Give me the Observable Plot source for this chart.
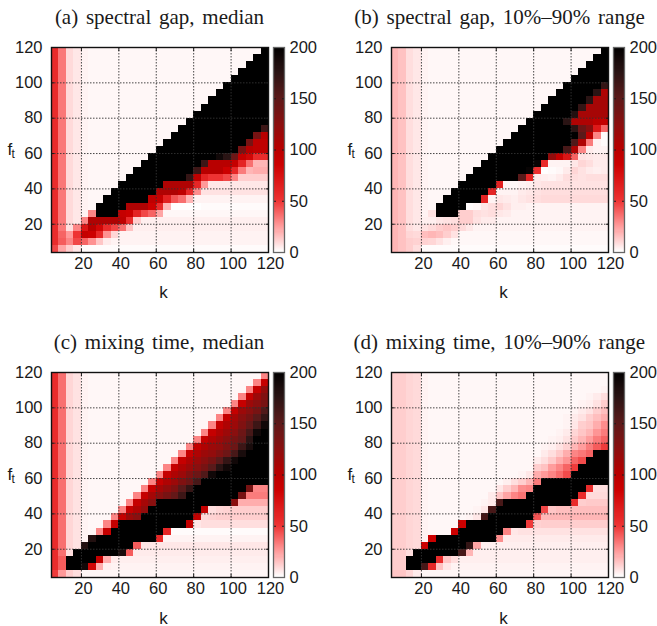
<!DOCTYPE html>
<html><head><meta charset="utf-8">
<script src="https://cdn.jsdelivr.net/npm/d3@7"></script>
<script src="https://cdn.jsdelivr.net/npm/@observablehq/plot@0.6"></script>
<style>
html,body{margin:0;padding:0;background:#fff}
#page{position:relative;width:657px;height:626px;overflow:hidden;background:#fff}
#page svg{position:absolute;background:transparent;max-width:none}
.title{position:absolute;transform:translateX(-50%);white-space:nowrap;font-family:"Liberation Serif",serif;font-size:21px;word-spacing:2.5px;color:#1a1a1a;line-height:24px}
</style></head><body><div id="page"></div>
<script>
const kStarts=[4,8,12,16,20,24,28,32,36,40,44,48,52,56,60,64,68,72,76,80,84,88,92,96,100,104,108,112,116];
const ftStarts=[116,112,108,104,100,96,92,88,84,80,76,72,68,64,60,56,52,48,44,40,36,32,28,24,20,16,12,8,4];
const xTicks=[20,40,60,80,100,120];
const yTicks=[20,40,60,80,100,120];
const barTicks=[0,50,100,150,200];
const gridLines=[20,40,60,80,100];
const colorStops=[0,25,50,85,100,125,150,175,200];
const colorRange=["#ffffff","#ff9999","#ee3333","#cc0000","#b80000","#8a0f0f","#5a1a1a","#2a1414","#000000"];
const titles=["(a) spectral gap, median","(b) spectral gap, 10%–90% range","(c) mixing time, median","(d) mixing time, 10%–90% range"];

const gapMedian=[
[55,33,9,6,3,2,2,2,2,2,2,2,2,2,2,2,2,2,2,2,2,2,2,2,2,2,2,2,200],
[55,33,9,6,3,2,2,2,2,2,2,2,2,2,2,2,2,2,2,2,2,2,2,2,2,2,2,200,200],
[55,33,9,6,3,2,2,2,2,2,2,2,2,2,2,2,2,2,2,2,2,2,2,2,2,2,200,200,200],
[55,33,9,6,3,2,2,2,2,2,2,2,2,2,2,2,2,2,2,2,2,2,2,2,2,200,200,200,200],
[55,33,9,6,3,2,2,2,2,2,2,2,2,2,2,2,2,2,2,2,2,2,2,2,200,200,200,200,200],
[55,33,9,6,3,2,2,2,2,2,2,2,2,2,2,2,2,2,2,2,2,2,2,200,200,200,200,200,200],
[55,33,9,6,3,2,2,2,2,2,2,2,2,2,2,2,2,2,2,2,2,2,200,200,200,200,200,200,200],
[55,33,9,6,3,2,2,2,2,2,2,2,2,2,2,2,2,2,2,2,2,200,200,200,200,200,200,200,200],
[55,33,9,6,3,2,2,2,2,2,2,2,2,2,2,2,2,2,2,2,200,200,200,200,200,200,200,200,200],
[55,33,9,6,3,2,2,2,2,2,2,2,2,2,2,2,2,2,2,200,200,200,200,200,200,200,200,200,200],
[55,33,9,6,3,2,2,2,2,2,2,2,2,2,2,2,2,2,200,200,200,200,200,200,200,200,200,200,200],
[55,33,9,6,3,2,2,2,2,2,2,2,2,2,2,2,2,200,200,200,200,200,200,200,200,200,200,200,165],
[55,33,9,6,3,2,2,2,2,2,2,2,2,2,2,2,200,200,200,200,200,200,200,200,200,200,200,135,100],
[55,33,9,6,3,2,2,2,2,2,2,2,2,2,2,200,200,200,200,200,200,200,200,200,200,200,135,95,95],
[55,33,9,6,3,2,2,2,2,2,2,2,2,2,200,200,200,200,200,200,200,200,200,200,200,135,100,95,95],
[55,33,9,6,3,2,2,2,2,2,2,2,2,200,200,200,200,200,200,200,200,200,190,175,140,90,80,55,55],
[55,33,9,6,3,2,2,2,2,2,2,2,200,200,200,200,200,200,200,200,165,100,100,100,90,60,35,18,18],
[55,33,9,6,3,2,2,2,2,2,2,200,200,200,200,200,200,200,200,165,100,100,100,85,58,32,18,20,20],
[55,33,9,6,3,2,2,2,2,2,200,200,200,200,200,200,200,200,170,95,60,50,50,45,30,12,12,12,12],
[55,33,9,6,3,2,2,2,2,200,200,200,200,200,200,105,105,105,105,58,25,6,6,6,6,6,6,6,6],
[55,33,9,6,3,2,2,2,200,200,200,200,200,200,105,105,105,95,58,28,7,7,7,7,7,7,7,7,7],
[55,33,9,6,3,2,2,200,200,200,200,200,200,95,90,62,42,35,18,3,3,3,3,3,3,3,3,3,3],
[55,33,9,6,3,2,200,200,200,200,105,105,105,85,55,18,0,0,0,0,1,1,1,1,1,1,1,1,1],
[55,33,9,6,3,30,200,200,200,90,85,60,45,38,22,2,2,2,2,2,2,2,2,2,2,2,2,2,2],
[55,33,9,6,30,105,105,105,105,95,55,12,4,4,4,4,4,4,4,4,4,4,4,4,4,4,4,4,4],
[55,33,8,30,70,100,80,55,45,35,15,4,4,4,4,4,4,4,4,4,4,4,4,4,4,4,4,4,4],
[55,38,25,50,90,85,58,27,10,3,3,3,3,3,3,3,3,3,3,3,3,3,3,3,3,3,3,3,3],
[55,40,30,45,38,27,14,5,3,3,3,3,3,3,3,3,3,3,3,3,3,3,3,3,3,3,3,3,3],
[45,22,12,6,1,1,1,1,1,1,1,1,1,1,1,1,1,1,1,1,1,1,1,1,1,1,1,1,1]];

const gapRange=[
[18,15,8,6,3,2,2,2,2,2,2,2,2,2,2,2,2,2,2,2,2,2,2,2,2,2,2,2,200],
[18,15,8,6,3,2,2,2,2,2,2,2,2,2,2,2,2,2,2,2,2,2,2,2,2,2,2,200,200],
[18,15,8,6,3,2,2,2,2,2,2,2,2,2,2,2,2,2,2,2,2,2,2,2,2,2,200,200,200],
[18,15,8,6,3,2,2,2,2,2,2,2,2,2,2,2,2,2,2,2,2,2,2,2,2,200,200,200,200],
[18,15,8,6,3,2,2,2,2,2,2,2,2,2,2,2,2,2,2,2,2,2,2,2,200,200,200,200,200],
[18,15,8,6,3,2,2,2,2,2,2,2,2,2,2,2,2,2,2,2,2,2,2,200,200,200,200,200,170],
[18,15,8,6,3,2,2,2,2,2,2,2,2,2,2,2,2,2,2,2,2,2,200,200,200,200,200,175,105],
[18,15,8,6,3,2,2,2,2,2,2,2,2,2,2,2,2,2,2,2,2,200,200,200,200,200,175,110,110],
[18,15,8,6,3,2,2,2,2,2,2,2,2,2,2,2,2,2,2,2,200,200,200,200,200,170,110,110,110],
[18,15,8,6,3,2,2,2,2,2,2,2,2,2,2,2,2,2,2,200,200,200,200,200,180,110,110,110,110],
[18,15,8,6,3,2,2,2,2,2,2,2,2,2,2,2,2,2,200,200,200,200,200,175,105,105,105,95,92],
[18,15,8,6,3,2,2,2,2,2,2,2,2,2,2,2,2,200,200,200,200,200,200,200,175,140,125,68,38],
[18,15,8,6,3,2,2,2,2,2,2,2,2,2,2,2,200,200,200,200,200,200,200,200,200,150,95,30,1],
[18,15,8,6,3,2,2,2,2,2,2,2,2,2,2,200,200,200,200,200,200,200,200,200,155,105,32,3,1],
[18,15,8,6,3,2,2,2,2,2,2,2,2,2,200,200,200,200,200,200,200,200,200,160,105,30,5,3,3],
[18,15,8,6,3,2,2,2,2,2,2,2,2,200,200,200,200,200,200,200,200,120,90,70,38,7,6,5,5],
[18,15,8,6,3,2,2,2,2,2,2,2,200,200,200,200,200,200,200,195,55,3,3,3,6,10,8,5,5],
[18,15,8,6,3,2,2,2,2,2,2,200,200,200,200,200,200,200,195,52,0,1,2,5,10,7,5,4,5],
[18,15,8,6,3,2,2,2,2,2,200,200,200,200,200,200,200,150,60,5,4,3,5,8,8,7,8,8,8],
[18,15,8,6,3,2,2,2,2,200,200,200,200,200,62,2,2,3,4,6,7,7,7,7,7,7,7,7,7],
[18,15,8,6,3,2,2,2,200,200,200,200,200,60,3,3,3,5,6,7,8,8,8,8,8,8,8,8,8],
[18,15,8,6,3,2,2,200,200,200,200,200,60,3,6,5,4,6,7,8,9,9,9,9,9,9,9,9,9],
[18,15,8,6,3,2,200,200,200,200,1,2,6,8,10,7,4,4,3,3,3,3,3,3,3,3,3,3,3],
[18,15,8,6,3,7,200,200,200,12,12,8,7,8,6,5,3,3,3,3,3,3,3,3,3,3,3,3,3],
[18,15,8,6,4,4,6,7,8,12,12,7,5,5,3,3,3,3,3,3,3,3,3,3,3,3,3,3,3],
[18,15,8,6,7,9,12,14,12,9,6,3,3,3,3,3,3,3,3,3,3,3,3,3,3,3,3,3,3],
[18,15,10,9,16,18,16,12,7,2,2,2,2,2,2,2,2,2,2,2,2,2,2,2,2,2,2,2,2],
[18,15,12,11,11,10,7,4,2,2,2,2,2,2,2,2,2,2,2,2,2,2,2,2,2,2,2,2,2],
[18,15,12,8,1,1,1,1,1,1,1,1,1,1,1,1,1,1,1,1,1,1,1,1,1,1,1,1,1]];

const mixMedian=[
[55,35,10,7,3,2,2,2,2,2,2,2,2,2,2,2,2,2,2,2,2,2,2,2,2,2,2,2,30],
[55,35,10,7,3,2,2,2,2,2,2,2,2,2,2,2,2,2,2,2,2,2,2,2,2,2,2,30,90],
[55,35,10,7,3,2,2,2,2,2,2,2,2,2,2,2,2,2,2,2,2,2,2,2,2,2,30,90,120],
[55,35,10,7,3,2,2,2,2,2,2,2,2,2,2,2,2,2,2,2,2,2,2,2,2,30,90,115,130],
[55,35,10,7,3,2,2,2,2,2,2,2,2,2,2,2,2,2,2,2,2,2,2,2,30,90,115,125,135],
[55,35,10,7,3,2,2,2,2,2,2,2,2,2,2,2,2,2,2,2,2,2,2,30,90,115,125,135,155],
[55,35,10,7,3,2,2,2,2,2,2,2,2,2,2,2,2,2,2,2,2,2,30,90,110,125,135,150,170],
[55,35,10,7,3,2,2,2,2,2,2,2,2,2,2,2,2,2,2,2,2,30,90,105,115,130,145,165,190],
[55,35,10,7,3,2,2,2,2,2,2,2,2,2,2,2,2,2,2,2,30,90,105,115,125,140,160,190,200],
[55,35,10,7,3,2,2,2,2,2,2,2,2,2,2,2,2,2,2,30,90,105,115,125,135,145,175,200,200],
[55,35,10,7,3,2,2,2,2,2,2,2,2,2,2,2,2,2,30,90,105,115,120,130,140,165,185,200,200],
[55,35,10,7,3,2,2,2,2,2,2,2,2,2,2,2,2,30,90,105,115,120,130,140,160,185,200,200,200],
[55,35,10,7,3,2,2,2,2,2,2,2,2,2,2,2,30,90,105,115,125,135,150,170,190,200,200,200,200],
[55,35,10,7,3,2,2,2,2,2,2,2,2,2,2,30,90,105,115,125,135,150,175,190,200,200,200,200,200],
[55,35,10,7,3,2,2,2,2,2,2,2,2,2,30,90,105,115,130,140,155,190,200,200,200,200,200,200,200],
[55,35,10,7,3,2,2,2,2,2,2,2,2,30,90,105,115,130,140,160,200,200,200,200,200,200,200,200,200],
[55,35,10,7,3,2,2,2,2,2,2,2,30,90,110,120,130,150,170,200,200,200,200,200,200,200,135,30,30],
[55,35,10,7,3,2,2,2,2,2,2,30,90,110,125,135,145,165,200,200,200,200,200,200,200,135,32,32,32],
[55,35,10,7,3,2,2,2,2,2,30,90,110,125,200,200,200,200,200,200,200,200,200,200,125,20,20,20,20],
[55,35,10,7,3,2,2,2,2,30,90,105,120,200,200,200,200,200,200,200,90,8,10,11,12,12,12,12,12],
[55,35,10,7,3,2,2,2,30,90,115,125,200,200,200,200,200,200,200,92,10,11,12,12,12,12,12,12,12],
[55,35,10,7,3,2,2,30,90,200,200,200,200,200,200,200,200,200,92,6,8,8,8,8,8,8,8,8,8],
[55,35,10,7,3,2,30,90,200,200,200,200,200,200,200,58,1,1,1,1,1,1,1,1,1,1,1,1,1],
[55,35,10,7,3,180,200,200,200,200,200,200,200,200,58,3,3,3,3,3,3,3,3,3,3,3,3,3,3],
[55,35,10,7,180,200,200,200,200,200,200,40,6,6,6,6,6,6,6,6,6,6,6,6,6,6,6,6,6],
[55,35,8,200,200,200,200,200,200,185,40,5,5,5,5,5,5,5,5,5,5,5,5,5,5,5,5,5,5],
[55,40,200,200,200,200,90,20,5,4,4,4,4,4,4,4,4,4,4,4,4,4,4,4,4,4,4,4,4],
[55,40,200,200,190,80,20,4,3,3,3,3,3,3,3,3,3,3,3,3,3,3,3,3,3,3,3,3,3],
[48,25,12,8,2,2,2,2,2,2,2,2,2,2,2,2,2,2,2,2,2,2,2,2,2,2,2,2,2]];

const mixRange=[
[12,12,10,9,3,2,2,2,2,2,2,2,2,2,2,2,2,2,2,2,2,2,2,2,2,2,2,2,2],
[12,12,10,9,3,2,2,2,2,2,2,2,2,2,2,2,2,2,2,2,2,2,2,2,2,2,2,2,2],
[12,12,10,9,3,2,2,2,2,2,2,2,2,2,2,2,2,2,2,2,2,2,2,2,2,2,2,2,3],
[12,12,10,9,3,2,2,2,2,2,2,2,2,2,2,2,2,2,2,2,2,2,2,2,2,2,3,5,8],
[12,12,10,9,3,2,2,2,2,2,2,2,2,2,2,2,2,2,2,2,2,2,2,2,2,3,4,7,12],
[12,12,10,9,3,2,2,2,2,2,2,2,2,2,2,2,2,2,2,2,2,2,2,2,3,5,7,12,16],
[12,12,10,9,3,2,2,2,2,2,2,2,2,2,2,2,2,2,2,2,2,2,2,3,5,7,12,16,20],
[12,12,10,9,3,2,2,2,2,2,2,2,2,2,2,2,2,2,2,2,2,2,2,3,6,12,14,20,28],
[12,12,10,9,3,2,2,2,2,2,2,2,2,2,2,2,2,2,2,2,2,2,3,5,10,14,18,26,32],
[12,12,10,9,3,2,2,2,2,2,2,2,2,2,2,2,2,2,2,2,2,3,4,7,13,18,24,32,38],
[12,12,10,9,3,2,2,2,2,2,2,2,2,2,2,2,2,2,2,2,3,4,7,11,18,24,32,40,48],
[12,12,10,9,3,2,2,2,2,2,2,2,2,2,2,2,2,2,2,2,5,8,13,20,30,33,38,200,200],
[12,12,10,9,3,2,2,2,2,2,2,2,2,2,2,2,2,2,2,5,8,13,20,26,38,44,200,200,200],
[12,12,10,9,3,2,2,2,2,2,2,2,2,2,2,2,2,2,2,12,15,24,30,38,48,200,200,200,200],
[12,12,10,9,3,2,2,2,2,2,2,2,2,2,2,2,2,3,6,20,25,30,36,44,200,200,200,200,200],
[12,12,10,9,3,2,2,2,2,2,2,2,2,2,2,4,8,12,18,32,200,200,200,200,200,200,200,200,200],
[12,12,10,9,3,2,2,2,2,2,2,2,2,2,6,12,18,28,30,200,200,200,200,200,200,200,55,8,8],
[12,12,10,9,3,2,2,2,2,2,2,2,2,5,14,22,30,34,200,200,200,200,200,200,200,55,9,9,9],
[12,12,10,9,3,2,2,2,2,2,2,2,3,5,160,200,200,200,200,200,200,200,200,200,55,12,13,13,13],
[12,12,10,9,3,2,2,2,2,2,2,3,6,160,200,200,200,200,200,200,45,14,16,16,16,16,16,16,16],
[12,12,10,9,3,2,2,2,2,2,3,6,160,200,200,200,200,200,200,42,18,18,18,18,18,18,18,18,18],
[12,12,10,9,3,2,2,2,2,85,200,200,200,200,200,200,200,200,48,11,12,12,12,12,12,12,12,12,12],
[12,12,10,9,3,2,2,2,85,200,200,200,200,200,200,30,6,7,7,7,7,7,7,7,7,7,7,7,7],
[12,12,10,9,3,85,200,200,200,200,200,200,200,200,28,5,5,5,5,5,5,5,5,5,5,5,5,5,5],
[12,12,10,9,85,200,200,200,200,200,170,22,4,4,4,4,4,4,4,4,4,4,4,4,4,4,4,4,4],
[12,12,8,200,200,200,200,200,200,160,18,4,4,4,4,4,4,4,4,4,4,4,4,4,4,4,4,4,4],
[12,12,200,200,200,200,55,14,8,4,4,4,4,4,4,4,4,4,4,4,4,4,4,4,4,4,4,4,4],
[12,12,200,200,160,58,15,6,3,3,3,3,3,3,3,3,3,3,3,3,3,3,3,3,3,3,3,3,3],
[14,14,10,5,2,2,2,2,2,2,2,2,2,2,2,2,2,2,2,2,2,2,2,2,2,2,2,2,2]];

const page=document.getElementById("page");
const colorScale={type:"linear",domain:colorStops,range:colorRange,clamp:true};
const fontStyle={fontFamily:"'Liberation Sans',Arial,sans-serif",fontSize:"16.5px",color:"#1a1a1a",background:"transparent",overflow:"visible"};

function panel(rows,left,top,kShift){
  const cells=rows.flatMap((row,r)=>row.map((v,c)=>({k:kStarts[c],f:ftStarts[r],v})));
  const svg=Plot.plot({
    width:270,height:270,marginLeft:51,marginRight:2,marginTop:17,marginBottom:48,
    style:fontStyle,
    x:{domain:[4,120]},y:{domain:[4,120]},color:colorScale,
    marks:[
      Plot.rect(cells,{x1:"k",x2:d=>d.k+4,y1:"f",y2:d=>d.f+4,fill:"v",shapeRendering:"crispEdges"}),
      Plot.gridX(gridLines,{stroke:"#333",strokeOpacity:0.9,strokeWidth:1,strokeDasharray:"1.5,1.5"}),
      Plot.gridY(gridLines,{stroke:"#333",strokeOpacity:0.9,strokeWidth:1,strokeDasharray:"1.5,1.5"}),
      Plot.axisX(xTicks,{anchor:"bottom",tickSize:-3,tickFormat:()=>"",label:null}),
      Plot.axisX(xTicks,{anchor:"bottom",tickSize:0,tickPadding:5,dx:2,label:null}),
      Plot.axisX(xTicks,{anchor:"top",tickSize:-3,tickFormat:()=>"",label:null}),
      Plot.axisY(yTicks,{anchor:"left",tickSize:-3,tickPadding:12,label:null}),
      Plot.axisY(yTicks,{anchor:"right",tickSize:-3,tickFormat:()=>"",label:null}),
      Plot.text(["k"],{frameAnchor:"bottom",dx:3.5,dy:40+kShift,fontSize:17}),
      Plot.text(["f"],{frameAnchor:"left",dx:-44,dy:0,fontSize:17}),
      Plot.text(["t"],{frameAnchor:"left",dx:-40,dy:4,fontSize:12}),
      Plot.frame({stroke:"#111",strokeWidth:1.4})
    ]});
  svg.style.left=left+"px";svg.style.top=top+"px";
  page.appendChild(svg);
  const levels=d3.range(0,200,1);
  const bar=Plot.plot({
    width:60,height:270,marginLeft:3,marginRight:46,marginTop:17,marginBottom:48,
    style:fontStyle,
    y:{domain:[0,200]},color:colorScale,
    marks:[
      Plot.rect(levels,{y1:d=>d,y2:d=>d+1,fill:d=>d,shapeRendering:"crispEdges"}),
      Plot.axisY(barTicks,{anchor:"right",tickSize:-3,tickPadding:8,label:null}),
      Plot.axisY(barTicks,{anchor:"left",tickSize:-3,tickFormat:()=>"",label:null}),
      Plot.frame({stroke:"#666",strokeWidth:1.3})
    ]});
  bar.style.left=(left+270)+"px";bar.style.top=top+"px";
  page.appendChild(bar);
}
panel(gapMedian,0,30,5);
panel(gapRange,340,30,5);
panel(mixMedian,0,355,6);
panel(mixRange,340,355,6);

[[159.5,5],[499.5,5],[159,330],[499.3,330]].forEach(([x,y],i)=>{
  const d=document.createElement("div");d.className="title";d.textContent=titles[i];
  d.style.left=x+"px";d.style.top=y+"px";page.appendChild(d);
});
</script></body></html>
